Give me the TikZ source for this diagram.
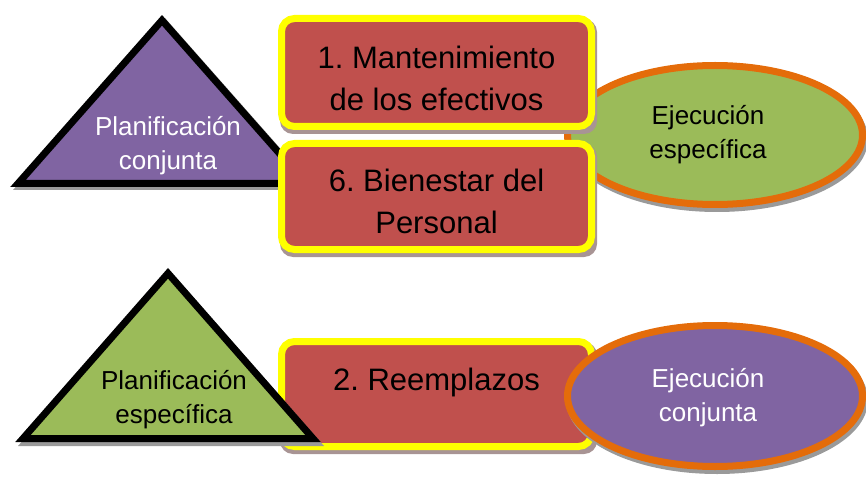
\documentclass[tikz,border=0pt]{standalone}
\usepackage{fontspec}
\setmainfont{Liberation Sans}
\frenchspacing
\definecolor{cpurple}{HTML}{8064A2}
\definecolor{cgreen}{HTML}{9BBB59}
\definecolor{cred}{HTML}{C0504D}
\definecolor{cyellow}{HTML}{FFFF00}
\definecolor{corange}{HTML}{E46C0A}
\definecolor{cshadow}{HTML}{A89494}
\definecolor{gshadow}{HTML}{9A9A9A}
\begin{document}
\begin{tikzpicture}[x=1pt,y=-1pt,
  tri/.style={draw=black,line width=7pt,line join=miter},
  box/.style={draw=cyellow,fill=cred,line width=7pt,rounded corners=13pt},
  boxshadow/.style={fill=cshadow,rounded corners=13pt},
  ell/.style={draw=corange,line width=7pt},
  shad/.style={fill=gshadow},
  smalltxt/.style={font=\fontsize{26}{34}\selectfont\frenchspacing,align=center,inner sep=0pt},
  bigtxt/.style={font=\fontsize{31}{42}\selectfont\frenchspacing,align=center,inner sep=0pt}]
\useasboundingbox (0,0) rectangle (866,478);
% ---- top row ----
\fill[shad] (717,139) ellipse [x radius=151, y radius=73];
\draw[ell,fill=cgreen] (715,135) ellipse [x radius=147.5, y radius=69.5];
\fill[shad] (13,190) -- (165,18) -- (317,190) -- cycle;
\draw[tri,fill=cpurple] (162,20.3) -- (18,183.5) -- (306,183.5) -- cycle;
\fill[boxshadow] (280,19) rectangle (597,134);
\draw[box] (281.5,18.5) rectangle (591.5,126.5);
\fill[boxshadow] (280,144) rectangle (597,257);
\draw[box] (281.5,143.5) rectangle (591.5,249.5);
\node[smalltxt,text=white] (t1) at (168,146) {Planificación\\conjunta};
\node[bigtxt] (b1) at (436.5,78) {1. Mantenimiento\\de los efectivos};
\node[bigtxt] (b6) at (436.5,201) {6. Bienestar del\\Personal};
\node[smalltxt] (e1) at (708,135) {Ejecución\\específica};
% ---- bottom row ----
\fill[boxshadow] (280,342) rectangle (597,454);
\draw[box] (281.5,341.5) rectangle (591.5,446.5);
\fill[shad] (717,400) ellipse [x radius=151, y radius=74];
\draw[ell,fill=cpurple] (715,396) ellipse [x radius=147.5, y radius=70.5];
\fill[shad] (18,446) -- (171,272) -- (324,446) -- cycle;
\draw[tri,fill=cgreen] (168,273.3) -- (23,438.5) -- (313,438.5) -- cycle;
\node[bigtxt] (b2) at (436.5,382) {2. Reemplazos};
\node[smalltxt] (t2) at (174,400) {Planificación\\específica};
\node[smalltxt,text=white] (e2) at (708,398) {Ejecución\\conjunta};
\end{tikzpicture}
\end{document}
